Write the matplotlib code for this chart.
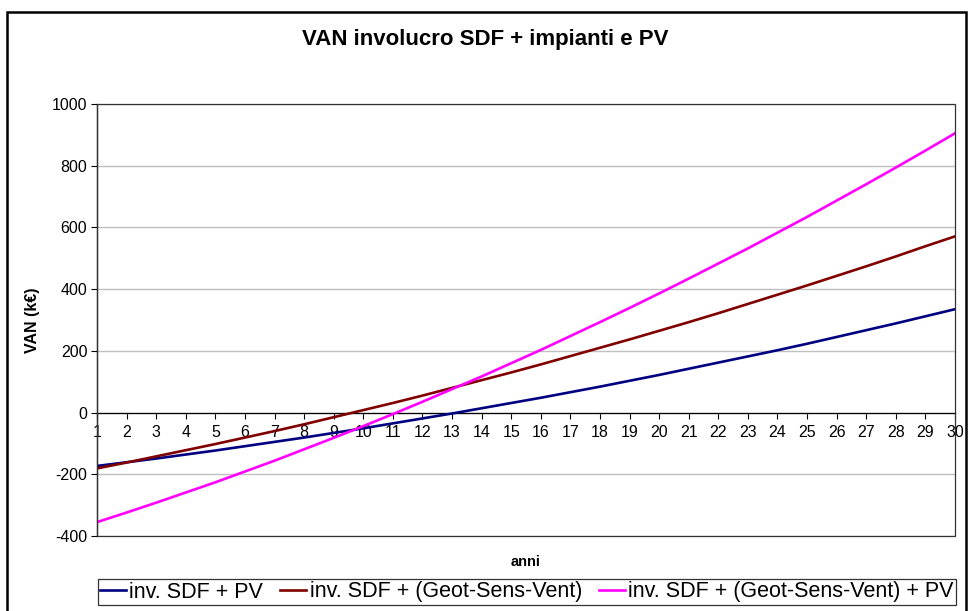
import matplotlib
matplotlib.use("Agg")
import matplotlib.pyplot as plt
from matplotlib.patches import Rectangle

plt.rcParams['font.family'] = ['Liberation Sans', 'DejaVu Sans']
plt.rcParams['axes.unicode_minus'] = False

# anni (years) and VAN in k€
anni = list(range(1, 31))
sdf_pv = [-173, -161, -149, -136, -123, -109, -95, -81, -66, -51,
          -35, -19, -3, 14, 31, 48, 66, 84, 103, 122,
          142, 162, 182, 202, 223, 245, 267, 289, 312, 335]
sdf_gsv = [-181, -162, -142, -122, -102, -81, -60, -38, -15, 8,
           31, 55, 80, 105, 130, 156, 183, 210, 237, 265,
           293, 322, 352, 382, 412, 443, 474, 506, 539, 571]
sdf_gsv_pv = [-355, -324, -292, -259, -226, -191, -156, -119, -82, -44,
              -5, 35, 76, 117, 160, 203, 248, 293, 339, 386,
              434, 483, 532, 583, 634, 687, 740, 794, 849, 905]

series_names = ['inv. SDF + PV', 'inv. SDF + (Geot-Sens-Vent)',
                'inv. SDF + (Geot-Sens-Vent) + PV']
colors = ['#000080', '#800000', '#FF00FF']
y_ticks = [-400, -200, 0, 200, 400, 600, 800, 1000]

W, H = 971, 611
fig = plt.figure(figsize=(W / 100, H / 100), dpi=100)
ax = fig.add_axes([97 / W, 1 - 536 / H, (955 - 97) / W, (536 - 104) / H])

for vals, name, c in zip([sdf_pv, sdf_gsv, sdf_gsv_pv], series_names, colors):
    ax.plot(anni, vals, color=c, lw=1.9, label=name, zorder=3)

ax.set_xlim(1, 30)
ax.set_ylim(-400, 1000)
ax.set_xticks(anni)
ax.set_yticks(y_ticks)
ax.tick_params(axis='both', labelsize=11.5, length=4, width=0.8,
               direction='out', color='black')
ax.tick_params(axis='x', pad=5)
ax.tick_params(axis='y', pad=3)

# x axis crosses at zero, plot area keeps a frame
ax.spines['bottom'].set_position(('data', 0))
ax.spines['bottom'].set_linewidth(0.9)
ax.spines['left'].set_linewidth(0.9)
for s in ('top', 'right'):
    ax.spines[s].set_visible(False)
ax.add_patch(Rectangle((0, 0), 1, 1, transform=ax.transAxes, fill=False,
                       edgecolor='#333333', lw=0.9, clip_on=False, zorder=4))

ax.yaxis.grid(True, color='#c0c0c0', lw=1)
ax.set_axisbelow(True)

fig.text(0.5, 1 - 40 / H, 'VAN involucro SDF + impianti e PV',
         ha='center', va='center', fontsize=16, fontweight='bold')
fig.text(33 / W, 1 - 320 / H, 'VAN (k€)', rotation=90, ha='center',
         va='center', fontsize=11.5, fontweight='bold')
fig.text(526 / W, 1 - 562 / H, 'anni', ha='center', va='center',
         fontsize=10.5, fontweight='bold')

leg = fig.legend(loc='center', bbox_to_anchor=(527 / W, 1 - 592 / H),
                 ncol=3, fontsize=15.5, frameon=True, fancybox=False,
                 handlelength=1.2, handletextpad=0.15, columnspacing=0.8,
                 borderpad=0.1, borderaxespad=0)
leg.get_frame().set_edgecolor('black')
leg.get_frame().set_linewidth(0.9)

# outer chart border
fig.add_artist(Rectangle((7 / W, -0.05), (966 - 7) / W, 1.05 - 12 / H,
                         transform=fig.transFigure, fill=False,
                         edgecolor='black', lw=1.8))

fig.savefig('out.png', dpi=100)
